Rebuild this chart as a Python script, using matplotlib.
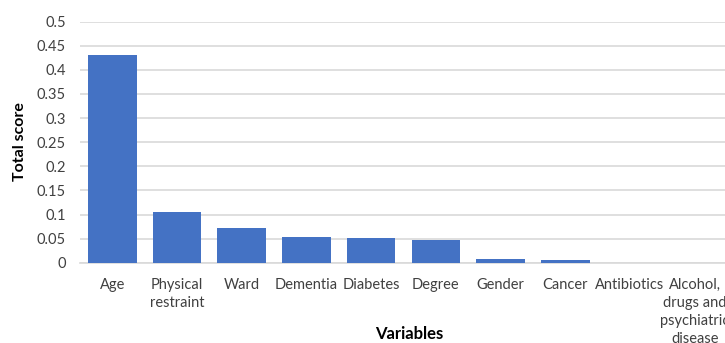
import matplotlib

matplotlib.use("Agg")
import matplotlib.pyplot as plt

plt.rcParams["font.family"] = ["Lato", "DejaVu Sans"]

categories = ["Age", "Physical\nrestraint", "Ward", "Dementia", "Diabetes", "Degree",
              "Gender", "Cancer", "Antibiotics", "Alcohol,\ndrugs and\npsychiatric\ndisease"]
scores = [0.430, 0.105, 0.071, 0.053, 0.051, 0.047, 0.008, 0.006, 0.0, 0.0]
yticks = [0, 0.05, 0.1, 0.15, 0.2, 0.25, 0.3, 0.35, 0.4, 0.45, 0.5]
ytick_labels = ["0", "0.05", "0.1", "0.15", "0.2", "0.25", "0.3", "0.35", "0.4", "0.45", "0.5"]

BAR = "#4472C4"
GRID = "#d9d9d9"
TEXT = "#404040"

fig = plt.figure(figsize=(7.25, 3.43), dpi=100)
ax = fig.add_axes([80 / 725, 0.234, 647 / 725, 0.703])

x = range(len(categories))
ax.bar(x, scores, width=0.75, color=BAR, zorder=3)

ax.set_xlim(-0.5, len(categories) - 0.5)
ax.set_ylim(0, 0.5)
ax.set_yticks(yticks)
ax.set_yticklabels(ytick_labels)
ax.set_xticks(list(x))
ax.set_xticklabels(categories, linespacing=1.35)

ax.grid(axis="y", color=GRID, linewidth=1.2, zorder=0)
for s in ["top", "right", "left"]:
    ax.spines[s].set_visible(False)
ax.spines["bottom"].set_color(GRID)
ax.spines["bottom"].set_linewidth(1.2)
ax.tick_params(axis="both", length=0, labelsize=10.5, colors=TEXT)
ax.tick_params(axis="x", pad=11)
ax.tick_params(axis="y", pad=10)

fig.text(20 / 725, 1 - 142 / 343, "Total score", rotation=90, ha="center", va="center",
         fontsize=11.5, fontweight="bold", color="black")
fig.text(409 / 725, 1 - 334 / 343, "Variables", ha="center", va="center",
         fontsize=12, fontweight="bold", color="black")

fig.savefig("out.png", dpi=100, facecolor="white")
